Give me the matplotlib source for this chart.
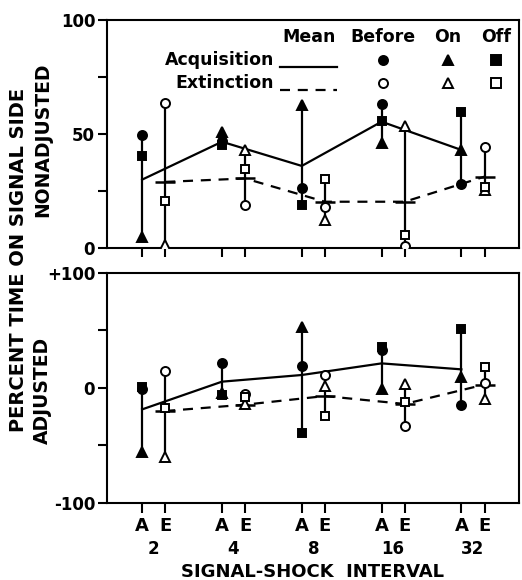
import matplotlib
matplotlib.use("Agg")
import matplotlib.pyplot as plt

plt.rcParams['font.family'] = 'DejaVu Sans'
plt.rcParams['font.weight'] = 'bold'

# signal-shock intervals (s)
intervals = ['2', '4', '8', '16', '32']

# nonadjusted (top panel), percent time on signal side
acq_mean_top = [30, 46.6, 36, 55.4, 43]
acq_before_top = [49.6, 47, 26.2, 63.2, 27.9]
acq_on_top = [4.7, 51, 62.7, 46.2, 43]
acq_off_top = [40.4, 45.2, 18.9, 55.8, 59.8]
ext_mean_top = [29, 30.5, 20.3, 20.3, 31.3]
ext_before_top = [63.7, 18.9, 18.1, 0.9, 44.4]
ext_on_top = [1.3, 43, 12.3, 53.5, 25.4]
ext_off_top = [20.8, 34.5, 30.1, 5.7, 26.9]

# adjusted (bottom panel)
acq_mean_bot = [-18.6, 5.5, 11.3, 21.4, 16.2]
acq_before_bot = [-1, 22, 19.1, 33, -14.8]
acq_on_bot = [-56, -4, 52.8, -1.2, 9.9]
acq_off_bot = [1, -6.1, -38.8, 35.4, 51.3]
ext_mean_bot = [-20, -14.5, -7, -13.9, 3]
ext_before_bot = [15, -5.2, 11.3, -33, 4.6]
ext_on_bot = [-60.3, -13.9, 1.7, 3.5, -9.8]
ext_off_bot = [-17.7, -8, -24.3, -11.9, 18.6]

x_acq = [i for i in range(len(intervals))]
x_ext = [i + 0.29 for i in range(len(intervals))]

MS = 6.5
DASH = (0, (4.5, 3.5))


def draw_group(ax, x, mean, before, on, off, filled, dashed):
    face = 'black' if filled else 'white'
    # range bars
    for xi, vals in zip(x, zip(mean, before, on, off)):
        ax.vlines(xi, min(vals), max(vals), color='black', lw=1.6, zorder=2)
    # mean line
    if dashed:
        ax.plot(x, mean, color='black', lw=1.6, linestyle=DASH, zorder=2)
        ax.plot(x, mean, linestyle='none', marker='_', ms=14, mew=1.8,
                color='black', zorder=2)
    else:
        ax.plot(x, mean, color='black', lw=1.6, zorder=2)
    ax.plot(x, before, 'o', ms=MS, mfc=face, mec='black', mew=1.4, zorder=3)
    ax.plot(x, on, '^', ms=MS, mfc=face, mec='black', mew=1.4, zorder=3)
    ax.plot(x, off, 's', ms=MS - 0.5, mfc=face, mec='black', mew=1.4, zorder=3)


def style_axes(ax):
    for sp in ax.spines.values():
        sp.set_linewidth(1.5)
    ax.set_xlim(-0.44, 4.72)
    ax.set_xticks(x_acq + x_ext)
    ax.tick_params(axis='both', which='major', direction='out', width=1.5,
                   length=6.5, labelsize=12, pad=2)


fig = plt.figure(figsize=(5.22, 5.80), dpi=100)
ax1 = fig.add_axes([0.205, 0.5724, 0.789, 0.3931])
ax2 = fig.add_axes([0.205, 0.1328, 0.789, 0.3965])

draw_group(ax1, x_acq, acq_mean_top, acq_before_top, acq_on_top, acq_off_top, True, False)
draw_group(ax1, x_ext, ext_mean_top, ext_before_top, ext_on_top, ext_off_top, False, True)
draw_group(ax2, x_acq, acq_mean_bot, acq_before_bot, acq_on_bot, acq_off_bot, True, False)
draw_group(ax2, x_ext, ext_mean_bot, ext_before_bot, ext_on_bot, ext_off_bot, False, True)

style_axes(ax1)
ax1.set_ylim(0, 100)
ax1.set_yticks([0, 25, 50, 75, 100], labels=['0', '', '50', '', '100'])
ax1.set_xticklabels([])

style_axes(ax2)
ax2.set_ylim(-100, 100)
ax2.set_yticks([-100, -50, 0, 50, 100], labels=['-100', '', '0', '', '+100'])
ax2.set_xticks(x_acq + x_ext, labels=['A'] * 5 + ['E'] * 5)
ax2.tick_params(axis='x', which='major', length=7, labelsize=13, pad=3)
mids = [(a + e) / 2 for a, e in zip(x_acq, x_ext)]
ax2.set_xticks(mids, labels=intervals, minor=True)
ax2.tick_params(axis='x', which='minor', length=0, labelsize=12, pad=27)
ax2.set_xlabel('SIGNAL-SHOCK  INTERVAL', fontsize=13, fontweight='bold', labelpad=3)

# y labels
fig.text(0.036, 0.552, 'PERCENT TIME ON SIGNAL SIDE', rotation=90,
         ha='center', va='center', fontsize=14, fontweight='bold')
fig.text(0.082, 0.759, 'NONADJUSTED', rotation=90,
         ha='center', va='center', fontsize=13.5, fontweight='bold')
fig.text(0.082, 0.326, 'ADJUSTED', rotation=90,
         ha='center', va='center', fontsize=13.5, fontweight='bold')

# legend table in the top panel
tr = ax1.transAxes
hdr_y, row1_y, row2_y = 0.925, 0.825, 0.722
col_x = [0.49, 0.67, 0.828, 0.944]
for cx, word in zip(col_x, ['Mean', 'Before', 'On', 'Off']):
    ax1.text(cx, hdr_y, word, transform=tr, ha='center', va='center',
             fontsize=12.5, fontweight='bold')
ax1.text(0.405, row1_y, 'Acquisition', transform=tr, ha='right', va='center',
         fontsize=12.5, fontweight='bold')
ax1.text(0.405, row2_y, 'Extinction', transform=tr, ha='right', va='center',
         fontsize=12.5, fontweight='bold')
ax1.plot([0.42, 0.558], [row1_y - 0.03] * 2, color='black', lw=1.6, transform=tr)
ax1.plot([0.42, 0.558], [row2_y - 0.03] * 2, color='black', lw=1.6,
         linestyle=DASH, transform=tr)
for cx, mk in zip(col_x[1:], ['o', '^', 's']):
    ax1.plot(cx, row1_y, mk, ms=MS, mfc='black', mec='black', mew=1.4,
             transform=tr, clip_on=False)
    ax1.plot(cx, row2_y, mk, ms=MS, mfc='white', mec='black', mew=1.4,
             transform=tr, clip_on=False)

fig.savefig('out.png', dpi=100)
